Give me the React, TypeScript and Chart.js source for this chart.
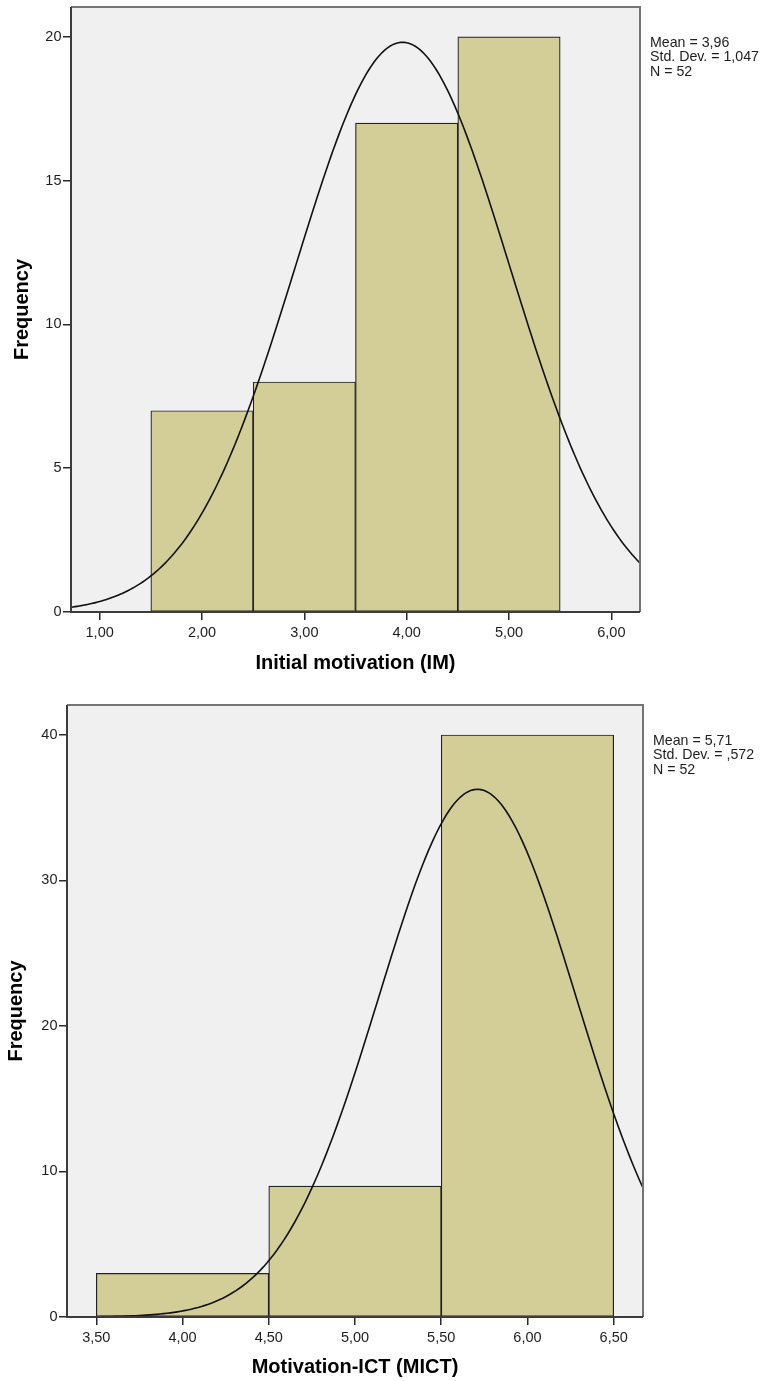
import React, { useEffect, useRef } from "react";
import { Chart, registerables } from "chart.js";

Chart.register(...registerables);

// ---------- Data: Initial motivation (IM) ----------
const IM_BIN_CENTERS = [2, 3, 4, 5];
const IM_COUNTS = [7, 8, 17, 20];
const IM_MEAN = 3.96;
const IM_SD = 1.047;
const IM_N = 52;
const IM_STATS = ["Mean = 3,96", "Std. Dev. = 1,047", "N = 52"];
const IM_TITLE = "Initial motivation (IM)";

// ---------- Data: Motivation-ICT (MICT) ----------
const MICT_BIN_CENTERS = [4, 5, 6];
const MICT_COUNTS = [3, 9, 40];
const MICT_MEAN = 5.71;
const MICT_SD = 0.572;
const MICT_N = 52;
const MICT_STATS = ["Mean = 5,71", "Std. Dev. = ,572", "N = 52"];
const MICT_TITLE = "Motivation-ICT (MICT)";

const Y_TITLE = "Frequency";
const FONT = "'Liberation Sans', Arial, Helvetica, sans-serif";

type Spec = {
  centers: number[];
  counts: number[];
  mean: number;
  sd: number;
  n: number;
  binWidth: number;
  stats: string[];
  title: string;
  xMin: number;
  xMax: number;
  xStep: number;
  yMax: number;
  yStep: number;
  // layout
  height: number;
  top: number;
  padTop: number;
  padRight: number;
  yAxisWidth: number;
  xAxisHeight: number;
  xTitlePad: number;
  yTitlePad: number;
};

const IM_SPEC: Spec = {
  centers: IM_BIN_CENTERS,
  counts: IM_COUNTS,
  mean: IM_MEAN,
  sd: IM_SD,
  n: IM_N,
  binWidth: 1,
  stats: IM_STATS,
  title: IM_TITLE,
  xMin: 0.72,
  xMax: 6.28,
  xStep: 1,
  yMax: 21.04,
  yStep: 5,
  height: 690,
  top: 0,
  padTop: 7,
  padRight: 123,
  yAxisWidth: 71,
  xAxisHeight: 78,
  xTitlePad: 15,
  yTitlePad: 10,
};

const MICT_SPEC: Spec = {
  centers: MICT_BIN_CENTERS,
  counts: MICT_COUNTS,
  mean: MICT_MEAN,
  sd: MICT_SD,
  n: MICT_N,
  binWidth: 1,
  stats: MICT_STATS,
  title: MICT_TITLE,
  xMin: 3.33,
  xMax: 6.67,
  xStep: 0.5,
  yMax: 42.06,
  yStep: 10,
  height: 691,
  top: 690,
  padTop: 15,
  padRight: 120,
  yAxisWidth: 67,
  xAxisHeight: 64,
  xTitlePad: 2,
  yTitlePad: 4,
};

const spssPlugin = {
  id: "spssFrame",
  beforeDraw(chart: any) {
    const { ctx, chartArea: a } = chart;
    ctx.save();
    ctx.fillStyle = "#f0f0f0";
    ctx.fillRect(a.left, a.top, a.right - a.left, a.bottom - a.top);
    ctx.restore();
  },
  afterDraw(chart: any) {
    const { ctx, chartArea: a } = chart;
    const stats: string[] = chart.options.plugins.spssFrame?.stats || [];
    ctx.save();
    ctx.lineWidth = 2;
    ctx.strokeStyle = "#747474";
    ctx.beginPath();
    ctx.moveTo(a.left, a.top);
    ctx.lineTo(a.right, a.top);
    ctx.lineTo(a.right, a.bottom);
    ctx.stroke();
    ctx.strokeStyle = "#3c3c3c";
    ctx.beginPath();
    ctx.moveTo(a.left, a.top);
    ctx.lineTo(a.left, a.bottom);
    ctx.lineTo(a.right, a.bottom);
    ctx.stroke();

    ctx.fillStyle = "#1e1e1e";
    ctx.font = `14.2px ${FONT}`;
    ctx.textAlign = "left";
    ctx.textBaseline = "middle";
    stats.forEach((s, i) => {
      ctx.fillText(s, a.right + 10, a.top + 36 + i * 14.5);
    });
    ctx.restore();
  },
};

function Histogram({ spec }: { spec: Spec }) {
  const ref = useRef<HTMLCanvasElement>(null);

  useEffect(() => {
    if (!ref.current) return;
    const peak = (spec.n * spec.binWidth) / (spec.sd * Math.sqrt(2 * Math.PI));
    const curve: { x: number; y: number }[] = [];
    for (let x = spec.xMin; x <= spec.xMax + 1e-9; x += 0.02) {
      const z = (x - spec.mean) / spec.sd;
      curve.push({ x, y: peak * Math.exp(-0.5 * z * z) });
    }
    const bars = spec.centers.map((c, i) => ({ x: c, y: spec.counts[i] }));

    const tickFont = { family: FONT, size: 14.5 };
    const titleFont = { family: FONT, size: 20, weight: "bold" as const };

    const chart = new Chart(ref.current, {
      type: "bar",
      data: {
        datasets: [
          {
            type: "line",
            data: curve,
            borderColor: "#111",
            borderWidth: 1.6,
            pointRadius: 0,
            tension: 0,
            fill: false,
            order: 0,
          } as any,
          {
            type: "bar",
            data: bars,
            backgroundColor: "#d3ce97",
            borderColor: "#222",
            borderWidth: 1.2,
            borderSkipped: false,
            barThickness: "flex",
            categoryPercentage: 1,
            barPercentage: 1,
            order: 1,
          } as any,
        ],
      },
      options: {
        responsive: false,
        animation: false,
        events: [],
        layout: {
          padding: { left: 0, right: spec.padRight, top: spec.padTop, bottom: 0 },
        },
        plugins: {
          legend: { display: false },
          tooltip: { enabled: false },
          spssFrame: { stats: spec.stats },
        } as any,
        scales: {
          x: {
            type: "linear",
            min: spec.xMin,
            max: spec.xMax,
            offset: false,
            grid: {
              display: true,
              drawOnChartArea: false,
              drawTicks: true,
              tickLength: 8,
              lineWidth: 1.5,
              color: "#2a2a2a",
              offset: false,
            },
            border: { display: false },
            ticks: {
              stepSize: spec.xStep,
              includeBounds: false,
              autoSkip: false,
              maxRotation: 0,
              padding: 4.3,
              color: "#1e1e1e",
              font: tickFont,
              callback: (v: any) => Number(v).toFixed(2).replace(".", ","),
            },
            title: {
              display: true,
              text: spec.title,
              color: "#000",
              font: titleFont,
              padding: { top: 0, bottom: spec.xTitlePad },
            },
            afterFit: (s: any) => {
              s.height = spec.xAxisHeight;
              s.paddingLeft = 0;
              s.paddingRight = 0;
            },
          } as any,
          y: {
            type: "linear",
            min: 0,
            max: spec.yMax,
            grid: {
              display: true,
              drawOnChartArea: false,
              drawTicks: true,
              tickLength: 8,
              lineWidth: 1.5,
              color: "#2a2a2a",
            },
            border: { display: false },
            ticks: {
              stepSize: spec.yStep,
              includeBounds: false,
              autoSkip: false,
              padding: 1.5,
              color: "#1e1e1e",
              font: tickFont,
            },
            title: {
              display: true,
              text: Y_TITLE,
              color: "#000",
              font: titleFont,
              padding: { top: spec.yTitlePad, bottom: 0 },
            },
            afterFit: (s: any) => {
              s.width = spec.yAxisWidth;
              s.paddingTop = 0;
              s.paddingBottom = 0;
            },
          } as any,
        },
      },
      plugins: [spssPlugin],
    });
    return () => chart.destroy();
  }, [spec]);

  return (
    <canvas
      ref={ref}
      width={763}
      height={spec.height}
      style={{
        position: "absolute",
        left: 0,
        top: spec.top,
        width: 763,
        height: spec.height,
        display: "block",
      }}
    />
  );
}

export default function App() {
  return (
    <div
      style={{
        position: "absolute",
        left: 0,
        top: 0,
        width: 763,
        height: 1381,
        background: "#fff",
        overflow: "hidden",
      }}
    >
      <Histogram spec={IM_SPEC} />
      <Histogram spec={MICT_SPEC} />
    </div>
  );
}
